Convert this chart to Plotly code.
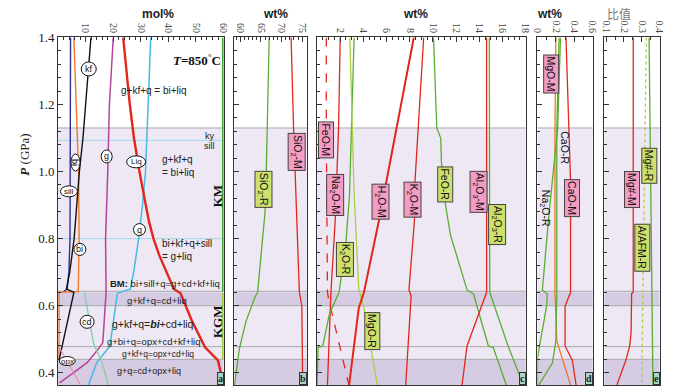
import plotly.graph_objects as go

# ---------------- data ----------------
# panel a (mol%)
P_sill = [1.4, 1.2, 1.0, 0.9, 0.8, 0.7, 0.65, 0.642]
sill = [4.5, 4.5, 4.4, 4.4, 4.3, 3.9, 3.3, 2.0]
P_bi = [1.4, 1.2, 1.0, 0.8, 0.65, 0.642, 0.64, 0.44]
bi = [5.7, 6.5, 7.4, 7.6, 7.5, 7.3, 0.3, 0.3]
P_kf = [1.4, 1.2, 1.1, 1.0, 0.9, 0.8, 0.7, 0.65, 0.64, 0.44]
kf = [11.9, 9.9, 9.0, 7.7, 6.8, 5.8, 4.2, 3.0, 5.7, 0.4]
P_g = [1.4, 1.2, 1.0, 0.8, 0.64, 0.49, 0.47, 0.45, 0.43, 0.40, 0.37]
g = [20.0, 18.6, 18.0, 17.2, 17.4, 16.2, 14.5, 12.5, 10.5, 5.5, 0.5]
P_liq = [1.4, 1.2, 1.1, 1.0, 0.9, 0.85, 0.8, 0.75, 0.65, 0.637, 0.554, 0.476, 0.437, 0.388, 0.3634]
liq = [23.6, 26.0, 27.5, 29.5, 31.8, 33.0, 34.6, 36.7, 42.0, 44.4, 48.6, 53.3, 58.0, 59.3, 60.0]
P_q = [1.4, 1.2, 1.0, 0.9, 0.8, 0.7, 0.65, 0.637, 0.48, 0.43, 0.3634]
q = [33.6, 32.7, 31.7, 30.6, 29.2, 27.4, 26.2, 21.5, 18.8, 14.0, 11.0]
P_cd = [0.64, 0.6, 0.574, 0.486, 0.43, 0.3634]
cd = [9.5, 10.4, 11.0, 12.9, 16.0, 18.2]
P_opx = [0.476, 0.3634]
opx = [0.4, 8.1]
P_KM = [1.4, 0.642]
KM = [60, 60]
P_KGM = [0.638, 0.44]
KGM = [60, 60]

# panel b (wt%)
P_SiO2R = [1.4, 1.13, 1.0, 0.88, 0.64, 0.627, 0.554, 0.472, 0.437, 0.3634]
SiO2_R = [67.0, 66.6, 66.3, 66.0, 64.2, 63.6, 61.4, 59.8, 59.4, 58.6]
P_SiO2M = [1.4, 1.13, 0.64, 0.60, 0.3634]
SiO2_M = [72.3, 72.9, 74.3, 74.9, 75.1]

# panel c (wt%)
P_FeOM = [1.4, 1.13, 0.64, 0.62, 0.3634]
FeO_M = [0.8, 0.8, 0.9, 1.0, 2.75]
P_Na2OM = [1.4, 1.13, 0.855, 0.64, 0.3634]
Na2O_M = [2.0, 1.86, 1.57, 1.2, 0.9]
P_K2OR = [1.4, 0.93, 0.79, 0.68, 0.64, 0.574, 0.48, 0.475, 0.39, 0.3634]
K2O_R = [3.2, 2.8, 2.5, 2.06, 1.9, 1.06, 0.5, 0.1, 0.0, 0.0]
P_MgOR = [1.4, 0.934, 0.651, 0.593, 0.3634]
MgO_R = [2.83, 3.2, 3.6, 4.05, 5.2]
P_H2OM = [1.4, 0.97, 0.852, 0.64, 0.593, 0.3634]
H2O_M = [8.35, 5.96, 5.33, 4.05, 3.6, 2.77]
P_K2OM = [1.4, 0.97, 0.852, 0.647, 0.63, 0.3634]
K2O_M = [9.2, 8.45, 8.4, 7.93, 8.12, 7.65]
P_FeOR = [1.4, 1.13, 1.10, 1.03, 0.896, 0.81, 0.647, 0.635, 0.48, 0.475, 0.3634]
FeO_R = [10.05, 10.33, 10.67, 10.73, 11.1, 11.52, 12.94, 13.5, 14.78, 15.2, 16.33]
P_Al2O3M = [1.4, 0.64, 0.48, 0.3634]
Al2O3_M = [14.63, 14.63, 12.94, 12.51]
P_Al2O3R = [1.4, 0.64, 0.48, 0.39, 0.3634]
Al2O3_R = [14.86, 14.9, 16.48, 17.46, 17.8]

# panel d (wt%)
P_MgOM = [1.4, 1.13, 0.64, 0.495, 0.3634]
MgO_M = [0.20, 0.19, 0.19, 0.21, 0.36]
P_CaOM = [1.4, 1.13, 0.97, 0.64, 0.598, 0.48, 0.437, 0.3634]
CaO_M = [0.31, 0.34, 0.36, 0.36, 0.30, 0.30, 0.38, 0.42]
P_CaOR = [1.4, 1.13, 0.64, 0.495, 0.43, 0.3634]
CaO_R = [0.235, 0.21, 0.21, 0.20, 0.163, 0.015]
P_Na2OR = [1.4, 1.13, 0.876, 0.647, 0.635, 0.60, 0.445, 0.3634]
Na2O_R = [0.25, 0.22, 0.126, 0.053, 0.107, 0.10, 0.0, 0.0]

# panel e (ratio)
P_MgM = [1.4, 0.64, 0.636, 0.52, 0.48, 0.44, 0.3634]
Mg_M = [0.252, 0.252, 0.243, 0.240, 0.232, 0.212, 0.16]
P_MgR = [1.4, 0.3634]
Mg_R = [0.341, 0.363]
P_AFM = [1.4, 0.3634]
AFM_R = [0.326, 0.299]

# axes
y_range = [0.3634, 1.4]
x_ranges = [[0, 60], [58.57, 76.19], [0, 18], [0, 0.6], [0.09, 0.4]]
x_ticks = [[10, 20, 30, 40, 50, 60], [60, 65, 70, 75], [2, 4, 6, 8, 10, 12, 14, 16, 18],
           [0, 0.2, 0.4, 0.6], [0.1, 0.2, 0.3, 0.4]]
x_ticktext = [["10", "20", "30", "40", "50", "60"], ["60", "65", "70", "75"],
              ["2", "4", "6", "8", "10", "12", "14", "16", "18"],
              ["0", "0.2", "0.4", "0.6"], ["0.1", "0.2", "0.3", "0.4"]]
x_minor = [2, 1, 0.5, 0.1, 0.05]
y_ticks = [0.4, 0.6, 0.8, 1.0, 1.2, 1.4]
y_ticktext = ["0.4", "0.6", "0.8", "1.0", "1.2", "1.4"]
top_titles = ["mol%", "wt%", "wt%", "wt%", "比值"]

# ---------------- style ----------------
W, H = 700, 388
px_x = [(54, 222), (233, 307), (317, 529), (541, 597), (609, 665)]
y_dom = [1 - 385 / H, 1 - 31 / H]
RED = "#e3261b"
GREEN = "#5aad33"
YGREEN = "#a8cf45"
PINKBOX = "#f39cc4"
GREENBOX = "#cde06b"
LIGHT = "rgb(237,232,243)"
DARK = "rgb(213,203,226)"
SERIF = "Liberation Serif"
SANS = "Liberation Sans"

fig = go.Figure()


def line(x, y, ax, color, width=1.3, dash=None):
    xa = "x" if ax == 1 else f"x{ax}"
    ya = "y" if ax == 1 else f"y{ax}"
    fig.add_trace(go.Scatter(x=x, y=y, xaxis=xa, yaxis=ya, mode="lines",
                             line=dict(color=color, width=width, dash=dash),
                             hoverinfo="skip", showlegend=False))


# panel a
line(sill, P_sill, 1, "#2e3192", 1.4)
line(bi, P_bi, 1, "#f0782a", 1.4)
line(kf, P_kf, 1, "#111111", 1.4)
line(g, P_g, 1, "#b5449b", 1.5)
line(q, P_q, 1, "#4ab9e3", 1.5)
line(cd, P_cd, 1, "#86d0a5", 1.4)
line(opx, P_opx, 1, "#f28fb0", 1.2)
line(liq, P_liq, 1, RED, 2.4)
line(KM, P_KM, 1, "#3fa535", 3)
line(KGM, P_KGM, 1, "#97c93d", 3)
# panel b
line(SiO2_R, P_SiO2R, 2, GREEN, 1.3)
line(SiO2_M, P_SiO2M, 2, RED, 1.3)
# panel c
line(FeO_M, P_FeOM, 3, RED, 1.3, "dash")
line(Na2O_M, P_Na2OM, 3, RED, 1.3)
line(K2O_R, P_K2OR, 3, GREEN, 1.3)
line(MgO_R, P_MgOR, 3, YGREEN, 1.3)
line(H2O_M, P_H2OM, 3, RED, 2.0)
line(K2O_M, P_K2OM, 3, RED, 1.3)
line(FeO_R, P_FeOR, 3, GREEN, 1.3)
line(Al2O3_M, P_Al2O3M, 3, RED, 1.3)
line(Al2O3_R, P_Al2O3R, 3, GREEN, 1.3)
# panel d
line(MgO_M, P_MgOM, 4, "#f0782a", 1.3)
line(CaO_R, P_CaOR, 4, GREEN, 1.3)
line(Na2O_R, P_Na2OR, 4, GREEN, 1.3)
line(CaO_M, P_CaOM, 4, RED, 1.3)
# panel e
line(Mg_M, P_MgM, 5, RED, 1.3)
line(Mg_R, P_MgR, 5, GREEN, 1.3)
line(AFM_R, P_AFM, 5, YGREEN, 1.3, "dot")

layout = dict(width=W, height=H, margin=dict(l=0, r=0, t=0, b=0),
              paper_bgcolor="white", plot_bgcolor="white", showlegend=False)

for i in range(5):
    n = i + 1
    xk = "xaxis" if n == 1 else f"xaxis{n}"
    yk = "yaxis" if n == 1 else f"yaxis{n}"
    layout[xk] = dict(
        domain=[px_x[i][0] / W, px_x[i][1] / W], range=x_ranges[i], side="top",
        anchor="y" if n == 1 else f"y{n}",
        tickvals=x_ticks[i], ticktext=x_ticktext[i], tickangle=90,
        ticks="inside", ticklen=5, tickwidth=1, tickcolor="#333",
        minor=dict(ticks="inside", ticklen=3, dtick=x_minor[i], tick0=0, tickcolor="#333"),
        showline=True, mirror=True, linecolor="#333", linewidth=1,
        showgrid=False, zeroline=False,
        tickfont=dict(family=SERIF, size=10, color="#444"), fixedrange=True)
    layout[yk] = dict(
        domain=y_dom, range=y_range, anchor="x" if n == 1 else f"x{n}",
        tickvals=y_ticks, ticktext=y_ticktext, showticklabels=(n == 1),
        ticks="inside", ticklen=5, tickcolor="#333",
        minor=dict(ticks="inside", ticklen=3, dtick=0.04, tick0=0.4, tickcolor="#333"),
        showline=True, mirror=True, linecolor="#333", linewidth=1,
        showgrid=False, zeroline=False,
        tickfont=dict(family=SERIF, size=13, color="#222"), fixedrange=True)
fig.update_layout(**layout)

# bands
shapes = []
bands = [(0.64, 1.13, LIGHT), (0.60, 0.64, DARK), (0.44, 0.60, LIGHT), (0.3634, 0.44, DARK)]
blines = [1.13, 0.643, 0.60, 0.478, 0.44]
for i in range(5):
    n = i + 1
    xr = "x domain" if n == 1 else f"x{n} domain"
    yr = "y" if n == 1 else f"y{n}"
    for y0, y1, c in bands:
        shapes.append(dict(type="rect", xref=xr, yref=yr, x0=0, x1=1, y0=y0, y1=y1,
                           fillcolor=c, line=dict(width=0), layer="below"))
    for yl in blines:
        shapes.append(dict(type="line", xref=xr, yref=yr, x0=0, x1=1, y0=yl, y1=yl,
                           line=dict(color="#a9a9a9", width=1), layer="below"))
# ky/sill & 0.8 lines in panel a
for yl in [1.093, 0.8]:
    shapes.append(dict(type="line", xref="x domain", yref="y", x0=0, x1=1, y0=yl, y1=yl,
                       line=dict(color="#8fd6ea", width=0.8), layer="below"))

# circled labels in panel a
circ = [("kf", 11.1, 1.306, 15, 14, 0), ("bi", 6.3, 1.027, 9, 17, 90), ("g", 17.6, 1.045, 11, 13, 0),
        ("Liq", 28.3, 1.029, 19, 12, 0), ("sill", 3.9, 0.941, 17, 11, 0), ("q", 29.5, 0.827, 12, 12, 0),
        ("bi", 7.9, 0.768, 12, 12, 0), ("cd", 10.5, 0.552, 14, 13, 0), ("opx", 3.3, 0.435, 16, 9, 0)]
annotations = []
for t, xv, yv, w, h, ang in circ:
    shapes.append(dict(type="circle", xref="x", yref="y", xsizemode="pixel", ysizemode="pixel",
                       xanchor=xv, yanchor=yv, x0=-w / 2, x1=w / 2, y0=-h / 2, y1=h / 2,
                       fillcolor="white", line=dict(color="#111", width=1), layer="above"))
    annotations.append(dict(x=xv, y=yv, xref="x", yref="y", text=t, showarrow=False,
                            textangle=ang, font=dict(family=SANS, size=9 if len(t) < 3 else 8, color="#111")))
fig.update_layout(shapes=shapes)


def txt(text, x, y, ax=1, size=10.5, family=SANS, xanchor="center", angle=0, align="center", color="#222"):
    xr = "x" if ax == 1 else f"x{ax}"
    yr = "y" if ax == 1 else f"y{ax}"
    annotations.append(dict(x=x, y=y, xref=xr, yref=yr, text=text, showarrow=False, xanchor=xanchor,
                            yanchor="middle", textangle=angle, align=align,
                            font=dict(family=family, size=size, color=color)))


# panel a texts
txt("<b><i>T</i>=850<sup>°</sup>C</b>", 50.4, 1.333, size=13, family=SERIF, color="#111")
txt("g+kf+q = bi+liq", 34.6, 1.242, size=10)
txt("ky", 57.5, 1.107, size=9, xanchor="right")
txt("sill", 57.5, 1.075, size=9, xanchor="right")
txt("g+kf+q<br>= bi+liq", 37.1, 1.016, size=10, xanchor="left", align="left")
txt("<b>KM</b>", 57.6, 0.926, size=13, family=SERIF, angle=-90, color="#111")
txt("bi+kf+q+sill<br>= g+liq", 37.1, 0.766, size=10, xanchor="left", align="left")
txt("<b>BM:</b> bi+sill+q=g+cd+kf+liq", 59.5, 0.665, size=9.5, xanchor="right")
txt("g+kf+q=cd+liq", 35.7, 0.615, size=9.5)
txt("<b>KGM</b>", 57.6, 0.554, size=13, family=SERIF, angle=-90, color="#111")
txt("g+kf+q=<b><i>bi</i></b>+cd+liq", 34.3, 0.545, size=10.5)
txt("g+bi+q=opx+cd+kf+liq", 34.6, 0.492, size=9.5)
txt("g+kf+q=opx+cd+liq", 36.1, 0.457, size=8.5)
txt("g+q=cd+opx+liq", 32.9, 0.404, size=9)


def box(text, x, y, ax, fill):
    xr = "x" if ax == 1 else f"x{ax}"
    yr = "y" if ax == 1 else f"y{ax}"
    annotations.append(dict(x=x, y=y, xref=xr, yref=yr, text=text, showarrow=False, textangle=90,
                            bgcolor=fill, bordercolor="#444", borderwidth=1, borderpad=1,
                            font=dict(family=SANS, size=10.5, color="#111")))


box("SiO<sub>2</sub>-R", 65.7, 0.946, 2, GREENBOX)
box("SiO<sub>2</sub>-M", 73.7, 1.059, 2, PINKBOX)
box("FeO-M", 0.8, 1.095, 3, PINKBOX)
box("Na<sub>2</sub>O-M", 1.56, 0.93, 3, PINKBOX)
box("H<sub>2</sub>O-M", 5.47, 0.909, 3, PINKBOX)
box("K<sub>2</sub>O-M", 8.23, 0.915, 3, PINKBOX)
box("FeO-R", 11.03, 0.962, 3, GREENBOX)
box("Al<sub>2</sub>O<sub>3</sub>-M", 13.96, 0.94, 3, PINKBOX)
box("Al<sub>2</sub>O<sub>3</sub>-R", 15.57, 0.842, 3, GREENBOX)
box("K<sub>2</sub>O-R", 2.37, 0.738, 3, GREENBOX)
box("MgO-R", 4.75, 0.524, 3, GREENBOX)
box("MgO-M", 0.145, 1.29, 4, PINKBOX)
box("CaO-M", 0.375, 0.921, 4, PINKBOX)
box("Mg#-M", 0.245, 0.945, 5, PINKBOX)
box("Mg#-R", 0.345, 1.018, 5, GREENBOX)
box("A/AFM-R", 0.303, 0.772, 5, GREENBOX)
txt("CaO-R", 0.29, 1.072, ax=4, size=10.5, angle=90, color="#111")
txt("Na<sub>2</sub>O-R", 0.085, 0.891, ax=4, size=10.5, angle=90, color="#111")

# corner letters
for i, lab in enumerate(["a", "b", "c", "d", "e"]):
    n = i + 1
    annotations.append(dict(x=1, y=0, xref="x domain" if n == 1 else f"x{n} domain",
                            yref="y domain" if n == 1 else f"y{n} domain",
                            xanchor="right", yanchor="bottom", text=f"<b>{lab}</b>", showarrow=False,
                            bgcolor="#a9d4c6", bordercolor="#333", borderwidth=1, borderpad=0,
                            font=dict(family=SERIF, size=10, color="#222")))

# top titles
centers = [137, 275, 417, 568, 638]
for c, t in zip(centers, top_titles):
    annotations.append(dict(x=c / W, y=1 - 7 / H, xref="paper", yref="paper",
                            text=f"<b>{t}</b>" if t != "比值" else t,
                            showarrow=False, yanchor="middle",
                            font=dict(family=SANS if t != "比值" else "Noto Sans CJK SC", size=12,
                                      color="#222" if t != "比值" else "#777")))
# y title
annotations.append(dict(x=10 / W, y=1 - 150 / H, xref="paper", yref="paper", text="<b><i>P</i></b> (GPa)",
                        showarrow=False, textangle=-90, font=dict(family=SERIF, size=13, color="#222")))

fig.update_layout(annotations=annotations)
fig.write_html("out.html", config={"displayModeBar": False},
               post_script="document.body.style.margin='0';document.body.style.overflow='hidden';")
